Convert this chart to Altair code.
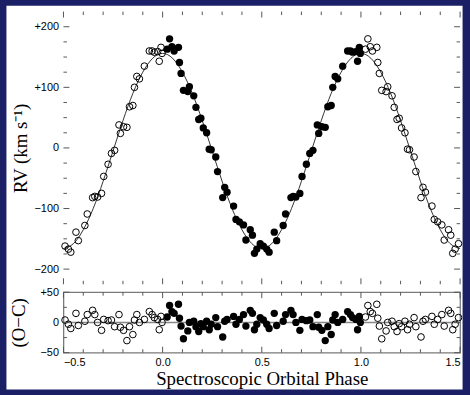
import altair as alt
import pandas as pd

# ---- data (phases in 0..1, filled symbols) ----
phase = [0.023, 0.035, 0.047, 0.058, 0.080, 0.085, 0.093, 0.105, 0.127, 0.135,
         0.157, 0.168, 0.182, 0.193, 0.205, 0.222, 0.235, 0.245, 0.268, 0.277,
         0.303, 0.313, 0.325, 0.358, 0.370, 0.387, 0.408, 0.420, 0.442, 0.453,
         0.463, 0.475, 0.492, 0.508, 0.525, 0.537, 0.563, 0.575, 0.608, 0.620,
         0.647, 0.658, 0.672, 0.692, 0.703, 0.725, 0.742, 0.758, 0.780, 0.787,
         0.803, 0.820, 0.833, 0.850, 0.858, 0.870, 0.883, 0.908, 0.933, 0.947,
         0.958, 0.975, 0.983, 0.992, 0.997]
rv = [163, 180, 167, 160, 166, 141, 123, 95, 93, 101,
      86, 67, 47, 49, 33, 25, -2, -3, -15, -39,
      -82, -65, -73, -96, -118, -122, -127, -152, -135, -144,
      -174, -167, -158, -162, -167, -172, -139, -153, -128, -109,
      -82, -80, -81, -75, -47, -27, -9, -4, 38, 24,
      35, 34, 68, 70, 100, 118, 114, 135, 160, 160,
      158, 159, 143, 166, 156]
oc = [9, 28, 18, 15, 30, 7, -6, -27, -14, 0,
      2, -7, -15, -2, -7, 2, -12, -3, 8, -7,
      -24, 2, 5, 10, -3, 5, 13, -6, 20, 15,
      -12, -3, 8, 4, -3, -10, 15, -5, 2, 13,
      20, 13, 0, -13, 5, 3, 4, -7, 13, -8,
      -13, -30, -7, -20, 4, 13, 0, 5, 18, 13,
      8, 5, -12, 10, 0]

# fitted orbit curve (read at 0.05 phase steps)
curve_phase = [-0.50, -0.45, -0.40, -0.35, -0.30, -0.25, -0.20, -0.15, -0.10, -0.05,
               0.00, 0.05, 0.10, 0.15, 0.20, 0.25, 0.30, 0.35, 0.40, 0.45,
               0.50, 0.55, 0.60, 0.65, 0.70, 0.75, 0.80, 0.85, 0.90, 0.95,
               1.00, 1.05, 1.10, 1.15, 1.20, 1.25, 1.30, 1.35, 1.40, 1.45, 1.50]
curve_rv = [-166, -158, -135, -100, -55, -5, 45, 90, 125, 148,
            156, 148, 125, 90, 45, -5, -55, -100, -135, -158,
            -166, -158, -135, -100, -55, -5, 45, 90, 125, 148,
            156, 148, 125, 90, 45, -5, -55, -100, -135, -158, -166]

# axis tick positions
x_major = [-0.5, 0.0, 0.5, 1.0, 1.5]
x_minor = [-0.4, -0.3, -0.2, -0.1, 0.1, 0.2, 0.3, 0.4, 0.6, 0.7, 0.8, 0.9,
           1.1, 1.2, 1.3, 1.4]
rv_major = [-200, -100, 0, 100, 200]
rv_minor = [-175, -150, -125, -75, -50, -25, 25, 50, 75, 125, 150, 175]
oc_major = [-50, 0, 50]
oc_minor = [-25, 25]

NAVY = "#1b2066"
TICK = "#555555"
W = 400
H_TOP = 275
H_BOT = 61

filled = pd.DataFrame({"phase": phase, "rv": rv, "oc": oc})
opened = filled.copy()
opened["phase"] = [p - 1 if p >= 0.5 else p + 1 for p in phase]
curve = pd.DataFrame({"phase": curve_phase, "rv": curve_rv})

xs = alt.Scale(domain=[-0.5, 1.5], nice=False, zero=False)
ys_top = alt.Scale(domain=[-225, 225], nice=False, zero=False)
ys_bot = alt.Scale(domain=[-50, 50], nice=False, zero=False)

lab_font = "Liberation Sans"
tit_font = "Liberation Serif"

common = dict(ticks=False, tickSize=0, domain=False, grid=False, zindex=2,
              labelFont=lab_font, labelFontSize=11, labelColor="black",
              titleFont=tit_font, titleFontSize=19, titleFontWeight="normal",
              titleColor="black")

y_axis_top = alt.Axis(values=rv_major, title="RV (km s\u207b\u00b9)",
                      labelExpr="datum.value > 0 ? '+' + datum.label : datum.label",
                      labelPadding=5, titleX=-43, titleY=H_TOP / 2, titleAngle=270,
                      titleAlign="center", titleBaseline="middle", **common)
y_axis_bot = alt.Axis(values=oc_major, title="(O\u2212C)",
                      labelExpr="datum.value > 0 ? '+' + datum.label : datum.label",
                      labelPadding=5, titleX=-45, titleY=H_BOT / 2, titleAngle=270,
                      titleAlign="center", titleBaseline="middle", **common)
x_axis_bot = alt.Axis(values=x_major, format=".1f", title="Spectroscopic Orbital Phase",
                      labelPadding=4, titlePadding=2, **common)


def tick_layers(ys, yaxis, xaxis, ymaj, ymin, H):
    layers = []
    for vals, L in ((x_major, 6), (x_minor, 3.5)):
        base = alt.Chart(pd.DataFrame({"v": vals})).mark_rule(color=TICK, strokeWidth=1)
        xe = alt.X("v:Q", scale=xs, axis=xaxis)
        layers.append(base.encode(x=xe, y=alt.value(0), y2=alt.value(L)))
        layers.append(base.encode(x=xe, y=alt.value(H), y2=alt.value(H - L)))
    for vals, L in ((ymaj, 6), (ymin, 3.5)):
        base = alt.Chart(pd.DataFrame({"v": vals})).mark_rule(color=TICK, strokeWidth=1)
        ye = alt.Y("v:Q", scale=ys, axis=yaxis)
        layers.append(base.encode(y=ye, x=alt.value(0), x2=alt.value(L)))
        layers.append(base.encode(y=ye, x=alt.value(W), x2=alt.value(W - L)))
    return layers


# white card behind the figure
card = alt.Chart(pd.DataFrame({"a": [0]})).mark_rect(color="white").encode(
    x=alt.value(-57.5), x2=alt.value(402.5), y=alt.value(-6), y2=alt.value(381))

xt = alt.X("phase:Q", scale=xs, axis=None)
line = alt.Chart(curve).mark_line(color="black", strokeWidth=0.8, interpolate="natural").encode(
    x=xt, y=alt.Y("rv:Q", scale=ys_top, axis=y_axis_top))
open_top = alt.Chart(opened).mark_point(shape="circle", filled=False, color="black",
                                        strokeWidth=1, size=45, opacity=1).encode(
    x=xt, y=alt.Y("rv:Q", scale=ys_top, axis=y_axis_top))
fill_top = alt.Chart(filled).mark_circle(color="black", size=55, opacity=1).encode(
    x=xt, y=alt.Y("rv:Q", scale=ys_top, axis=y_axis_top))

top = alt.layer(card, line, open_top, fill_top,
                *tick_layers(ys_top, y_axis_top, None, rv_major, rv_minor, H_TOP)
                ).properties(width=W, height=H_TOP)

xb = alt.X("phase:Q", scale=xs, axis=x_axis_bot)
zero = alt.Chart(pd.DataFrame({"z": [0]})).mark_rule(color="#888888", strokeWidth=1.6).encode(
    y=alt.Y("z:Q", scale=ys_bot, axis=y_axis_bot), x=alt.value(0), x2=alt.value(W))
open_bot = alt.Chart(opened).mark_point(shape="circle", filled=False, color="black",
                                        strokeWidth=1, size=45, opacity=1).encode(
    x=xb, y=alt.Y("oc:Q", scale=ys_bot, axis=y_axis_bot))
fill_bot = alt.Chart(filled).mark_circle(color="black", size=55, opacity=1).encode(
    x=xb, y=alt.Y("oc:Q", scale=ys_bot, axis=y_axis_bot))

bottom = alt.layer(zero, open_bot, fill_bot,
                   *tick_layers(ys_bot, y_axis_bot, x_axis_bot, oc_major, oc_minor, H_BOT)
                   ).properties(width=W, height=H_BOT)

chart = alt.vconcat(top, bottom, spacing=8, bounds="flush").properties(
    background=NAVY,
    padding={"left": 5, "top": 3, "right": 5, "bottom": 5},
).configure_view(stroke="#7a7a7a", strokeWidth=1.3)

chart.save("out.html", embed_options={"renderer": "svg", "actions": False})
